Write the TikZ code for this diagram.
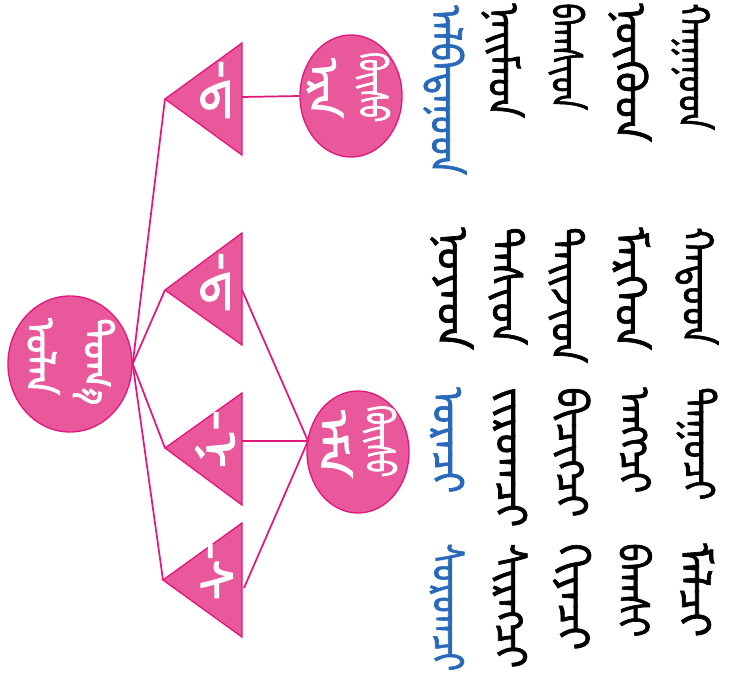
\documentclass[tikz,border=0pt]{standalone}
\usepackage{fontspec}
\usepackage{graphicx}
\usetikzlibrary{shapes.geometric}
\IfFontExistsTF{Noto Sans Mongolian}{%
  \newfontfamily\mong[Script=Mongolian,FakeBold=1.6]{Noto Sans Mongolian}%
  \newfontfamily\mongw[Script=Mongolian,FakeBold=2.2]{Noto Sans Mongolian}}%
 {\newfontfamily\mong{DejaVu Sans}\newfontfamily\mongw{DejaVu Sans}}
% stretch a vertical word to a length given in pixels of the reference
\newcommand\mw[2]{\resizebox{\dimexpr #1pt*3/4\relax}{1.2\height}{#2}}
\definecolor{pinkfill}{RGB}{233,88,155}
\definecolor{pinkline}{RGB}{226,23,126}
\definecolor{mblue}{RGB}{40,105,185}
\tikzset{
  bub/.style={ellipse,fill=pinkfill,draw=pinkline,line width=1pt,inner sep=0pt},
  tri/.style={fill=pinkfill,draw=pinkline,line width=1pt,line join=miter},
  conn/.style={draw=pinkline,line width=1.3pt},
  vt/.style={rotate=-90,anchor=west,inner sep=0pt,font=\mong\bfseries\fontsize{27}{30}\selectfont},
  wt/.style={vt,text=white,font=\mongw\bfseries\fontsize{25}{28}\selectfont},
  tt/.style={vt,text=white,font=\mongw\bfseries\fontsize{30}{32}\selectfont},
  bt/.style={vt,text=black},
  ht/.style={vt,text=mblue}
}
\begin{document}
\begin{tikzpicture}[x=0.75pt,y=-0.75pt]
\useasboundingbox (0,0) rectangle (731,674);
% root circle
\node[bub,minimum width=124*0.75pt,minimum height=136*0.75pt] (root) at (70,364) {};
\node[wt] (roota) at (43,318) {\mw{77}{ᠣᠯᠠᠨ}};
\node[wt] (rootb) at (94,318) {\mw{87}{ᠲᠣᠭ᠎ᠠ}};
% triangles
\draw[tri] (165,99) coordinate (t1a) -- (242,43) -- (242,155) -- cycle;
\draw[tri] (165,290) coordinate (t2a) -- (242,233) -- (242,345) -- cycle;
\draw[tri] (165,448) coordinate (t3a) -- (242,393) -- (242,505) -- cycle;
\draw[tri] (163,580) coordinate (t4a) -- (242,523) -- (242,637) -- cycle;
\coordinate (t1r) at (242,97);
\coordinate (t2r) at (242,290);
\coordinate (t3r) at (242,441);
\coordinate (t4r) at (244,588);
\node[tt] (t1t) at (215,60) {\mw{60}{-ᠳ}};
\node[tt] (t2t) at (215,252) {\mw{60}{-ᠳ}};
\node[tt] (t3t) at (215,410) {\mw{58}{-ᠨ}};
\node[tt] (t4t) at (215,542) {\mw{58}{-ᠰ}};
% circles
\node[bub,minimum width=102*0.75pt,minimum height=122*0.75pt] (c1) at (351,96) {};
\node[bub,minimum width=102*0.75pt,minimum height=122*0.75pt] (c2) at (358,452) {};
\coordinate (c2in) at (308,441);
\node[wt] (c1a) at (325,58) {\mw{60}{ᠡᠷᠡ}};
\node[wt] (c1b) at (373,52) {\mw{70}{ᠬᠦᠢᠰᠦ}};
\node[wt] (c2a) at (336,410) {\mw{68}{ᠡᠮᠡ}};
\node[wt] (c2b) at (380,405) {\mw{72}{ᠬᠦᠢᠰᠦ}};
% connectors
\draw[conn] (root.east) -- (t1a);
\draw[conn] (root.east) -- (t2a);
\draw[conn] (root.east) -- (t3a);
\draw[conn] (root.east) -- (t4a);
\draw[conn] (t1r) -- (c1.west);
\draw[conn] (t2r) -- (c2in);
\draw[conn] (t3r) -- (c2in);
\draw[conn] (t4r) -- (c2in);
% word columns
\node[ht] (w11) at (445,5) {\mw{170}{ᠠᠯᠪᠠᠲᠠᠨᠤᠳ}};
\node[bt] (w12) at (503,3) {\mw{115}{ᠨᠠᠢᠮᠠᠳ}};
\node[bt] (w13) at (568,3) {\mw{107}{ᠪᠠᠭᠰᠢᠳ}};
\node[bt] (w14) at (630,3) {\mw{139}{ᠨᠥᠬᠥᠳ}};
\node[bt] (w15) at (693,3) {\mw{127}{ᠬᠠᠭᠠᠨᠤᠳ}};
\node[bt] (w21) at (452,227) {\mw{123}{ᠨᠣᠶᠠᠳ}};
\node[bt] (w22) at (508,227) {\mw{118}{ᠲᠠᠰᠢᠳ}};
\node[bt] (w23) at (568,227) {\mw{136}{ᠲᠠᠢᠵᠢᠳ}};
\node[bt] (w24) at (632,227) {\mw{123}{ᠮᠡᠷᠭᠡᠳ}};
\node[bt] (w25) at (697,227) {\mw{118}{ᠬᠠᠲᠤᠳ}};
\node[ht] (w31) at (447,387) {\mw{106}{ᠤᠷᠠᠴᠢ}};
\node[bt] (w32) at (510,387) {\mw{140}{ᠵᠢᠷᠤᠭᠴᠢ}};
\node[bt] (w33) at (572,387) {\mw{130}{ᠪᠢᠴᠢᠭᠴᠢ}};
\node[bt] (w34) at (635,387) {\mw{106}{ᠠᠩᠭᠴᠢ}};
\node[bt] (w35) at (697,387) {\mw{113}{ᠳᠠᠭᠤᠴᠢ}};
\node[ht] (w41) at (447,543) {\mw{128}{ᠰᠤᠷᠤᠭᠴᠢ}};
\node[bt] (w42) at (510,543) {\mw{125}{ᠰᠢᠷᠡᠭᠴᠢ}};
\node[bt] (w43) at (572,543) {\mw{107}{ᠬᠢᠶᠠᠴᠢ}};
\node[bt] (w44) at (635,543) {\mw{94}{ᠪᠠᠭᠰᠢ}};
\node[bt] (w45) at (697,543) {\mw{94}{ᠮᠠᠯᠴᠢ}};
\end{tikzpicture}
\end{document}
